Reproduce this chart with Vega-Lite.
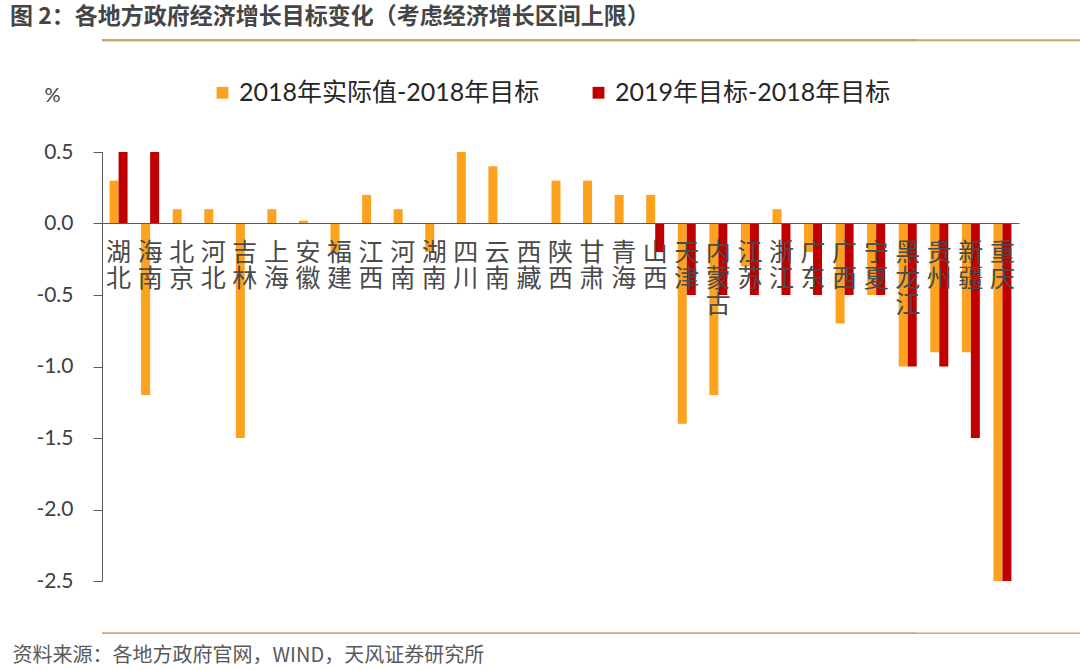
{
  "$schema": "https://vega.github.io/schema/vega-lite/v6.json",
  "width": 917,
  "height": 429,
  "autosize": {"type": "none"},
  "padding": {"left": 102, "top": 152, "right": 61, "bottom": 89},
  "background": "white",
  "config": {"view": {"stroke": null}},
  "title": {
    "text": "图 2：各地方政府经济增长目标变化（考虑经济增长区间上限）",
    "anchor": "start",
    "frame": "group",
    "dx": -92,
    "offset": 10,
    "font": "Noto Sans CJK SC",
    "fontSize": 23,
    "fontWeight": "bold",
    "color": "#454545"
  },
  "datasets": {
    "main": [
      {"province": "湖北", "series": "2018年实际值-2018年目标", "value": 0.3},
      {"province": "湖北", "series": "2019年目标-2018年目标", "value": 0.5},
      {"province": "海南", "series": "2018年实际值-2018年目标", "value": -1.2},
      {"province": "海南", "series": "2019年目标-2018年目标", "value": 0.5},
      {"province": "北京", "series": "2018年实际值-2018年目标", "value": 0.1},
      {"province": "北京", "series": "2019年目标-2018年目标", "value": 0},
      {"province": "河北", "series": "2018年实际值-2018年目标", "value": 0.1},
      {"province": "河北", "series": "2019年目标-2018年目标", "value": 0},
      {"province": "吉林", "series": "2018年实际值-2018年目标", "value": -1.5},
      {"province": "吉林", "series": "2019年目标-2018年目标", "value": 0},
      {"province": "上海", "series": "2018年实际值-2018年目标", "value": 0.1},
      {"province": "上海", "series": "2019年目标-2018年目标", "value": 0},
      {"province": "安徽", "series": "2018年实际值-2018年目标", "value": 0.02},
      {"province": "安徽", "series": "2019年目标-2018年目标", "value": 0},
      {"province": "福建", "series": "2018年实际值-2018年目标", "value": -0.2},
      {"province": "福建", "series": "2019年目标-2018年目标", "value": 0},
      {"province": "江西", "series": "2018年实际值-2018年目标", "value": 0.2},
      {"province": "江西", "series": "2019年目标-2018年目标", "value": 0},
      {"province": "河南", "series": "2018年实际值-2018年目标", "value": 0.1},
      {"province": "河南", "series": "2019年目标-2018年目标", "value": 0},
      {"province": "湖南", "series": "2018年实际值-2018年目标", "value": -0.2},
      {"province": "湖南", "series": "2019年目标-2018年目标", "value": 0},
      {"province": "四川", "series": "2018年实际值-2018年目标", "value": 0.5},
      {"province": "四川", "series": "2019年目标-2018年目标", "value": 0},
      {"province": "云南", "series": "2018年实际值-2018年目标", "value": 0.4},
      {"province": "云南", "series": "2019年目标-2018年目标", "value": 0},
      {"province": "西藏", "series": "2018年实际值-2018年目标", "value": 0},
      {"province": "西藏", "series": "2019年目标-2018年目标", "value": 0},
      {"province": "陕西", "series": "2018年实际值-2018年目标", "value": 0.3},
      {"province": "陕西", "series": "2019年目标-2018年目标", "value": 0},
      {"province": "甘肃", "series": "2018年实际值-2018年目标", "value": 0.3},
      {"province": "甘肃", "series": "2019年目标-2018年目标", "value": 0},
      {"province": "青海", "series": "2018年实际值-2018年目标", "value": 0.2},
      {"province": "青海", "series": "2019年目标-2018年目标", "value": 0},
      {"province": "山西", "series": "2018年实际值-2018年目标", "value": 0.2},
      {"province": "山西", "series": "2019年目标-2018年目标", "value": -0.2},
      {"province": "天津", "series": "2018年实际值-2018年目标", "value": -1.4},
      {"province": "天津", "series": "2019年目标-2018年目标", "value": -0.5},
      {"province": "内蒙古", "series": "2018年实际值-2018年目标", "value": -1.2},
      {"province": "内蒙古", "series": "2019年目标-2018年目标", "value": -0.5},
      {"province": "江苏", "series": "2018年实际值-2018年目标", "value": -0.3},
      {"province": "江苏", "series": "2019年目标-2018年目标", "value": -0.5},
      {"province": "浙江", "series": "2018年实际值-2018年目标", "value": 0.1},
      {"province": "浙江", "series": "2019年目标-2018年目标", "value": -0.5},
      {"province": "广东", "series": "2018年实际值-2018年目标", "value": -0.2},
      {"province": "广东", "series": "2019年目标-2018年目标", "value": -0.5},
      {"province": "广西", "series": "2018年实际值-2018年目标", "value": -0.7},
      {"province": "广西", "series": "2019年目标-2018年目标", "value": -0.5},
      {"province": "宁夏", "series": "2018年实际值-2018年目标", "value": -0.5},
      {"province": "宁夏", "series": "2019年目标-2018年目标", "value": -0.5},
      {"province": "黑龙江", "series": "2018年实际值-2018年目标", "value": -1.0},
      {"province": "黑龙江", "series": "2019年目标-2018年目标", "value": -1.0},
      {"province": "贵州", "series": "2018年实际值-2018年目标", "value": -0.9},
      {"province": "贵州", "series": "2019年目标-2018年目标", "value": -1.0},
      {"province": "新疆", "series": "2018年实际值-2018年目标", "value": -0.9},
      {"province": "新疆", "series": "2019年目标-2018年目标", "value": -1.5},
      {"province": "重庆", "series": "2018年实际值-2018年目标", "value": -2.5},
      {"province": "重庆", "series": "2019年目标-2018年目标", "value": -2.5}
    ]
  },
  "layer": [
    {
      "data": {"name": "main"},
      "mark": {"type": "bar"},
      "encoding": {
        "x": {
          "field": "province",
          "type": "nominal",
          "sort": null,
          "scale": {"paddingInner": 0.43, "paddingOuter": 0.24},
          "axis": {
            "orient": "bottom",
            "offset": -358,
            "zindex": 1,
            "ticks": false,
            "domainColor": "#595959",
            "domainWidth": 1.2,
            "labelAngle": 0,
            "labelExpr": "split(datum.label, '')",
            "labelFont": "Noto Sans CJK SC",
            "labelFontSize": 25,
            "labelLineHeight": 26,
            "labelColor": "#4a4a4a",
            "labelBaseline": "top",
            "labelPadding": 17,
            "labelOverlap": false,
            "labelBound": false,
            "labelFlush": false,
            "title": "资料来源：各地方政府官网，WIND，天风证券研究所",
            "titleX": -90,
            "titleY": 432,
            "titleAlign": "left",
            "titleAnchor": null,
            "titleBaseline": "middle",
            "titleFont": "Noto Sans CJK SC",
            "titleFontSize": 20,
            "titleFontWeight": "normal",
            "titleColor": "#595959"
          }
        },
        "xOffset": {
          "field": "series",
          "type": "nominal",
          "sort": ["2018年实际值-2018年目标", "2019年目标-2018年目标"],
          "scale": {"paddingInner": 0, "paddingOuter": 0}
        },
        "y": {
          "field": "value",
          "type": "quantitative",
          "scale": {"domain": [-2.5, 0.5], "nice": false, "zero": false},
          "axis": {
            "orient": "left",
            "values": [0.5, 0, -0.5, -1, -1.5, -2, -2.5],
            "labelExpr": "(datum.value < 0 ? '-' : '') + format(abs(datum.value), '.1f')",
            "grid": false,
            "domainColor": "#595959",
            "tickColor": "#595959",
            "tickSize": 9,
            "labelPadding": 20,
            "labelFont": "Lato",
            "labelFontSize": 21,
            "labelColor": "#404040",
            "title": "%",
            "titleAngle": 0,
            "titleX": -50,
            "titleY": -57,
            "titleAlign": "center",
            "titleBaseline": "middle",
            "titleFont": "Lato",
            "titleFontSize": 20,
            "titleFontWeight": "normal",
            "titleColor": "#404040"
          }
        },
        "color": {
          "field": "series",
          "type": "nominal",
          "scale": {
            "domain": ["2018年实际值-2018年目标", "2019年目标-2018年目标"],
            "range": ["#FCA21E", "#C00000"]
          },
          "legend": {
            "orient": "none",
            "legendX": 108,
            "legendY": -72,
            "direction": "horizontal",
            "title": null,
            "symbolType": "square",
            "symbolSize": 140,
            "symbolStrokeWidth": 0,
            "labelFont": "Lato, 'Noto Sans CJK SC'",
            "labelFontSize": 25,
            "labelColor": "#262626",
            "labelOffset": 4,
            "columnPadding": 46,
            "padding": 0,
            "labelLimit": 400
          }
        }
      }
    },
    {
      "data": {"values": [{}]},
      "mark": {"type": "rule", "color": "#C9A36B", "strokeWidth": 2, "xOffset": -102},
      "encoding": {"y": {"datum": 1.282, "type": "quantitative"}}
    },
    {
      "data": {"values": [{}]},
      "mark": {"type": "rule", "color": "#C9A36B", "strokeWidth": 2, "xOffset": 163},
      "encoding": {"y": {"datum": 1.282, "type": "quantitative"}}
    },
    {
      "data": {"values": [{}]},
      "mark": {"type": "rule", "color": "#D8A47E", "strokeWidth": 1.5, "xOffset": -102},
      "encoding": {"y": {"datum": -2.865, "type": "quantitative"}}
    },
    {
      "data": {"values": [{}]},
      "mark": {"type": "rule", "color": "#D8A47E", "strokeWidth": 1.5, "xOffset": 163},
      "encoding": {"y": {"datum": -2.865, "type": "quantitative"}}
    }
  ]
}
